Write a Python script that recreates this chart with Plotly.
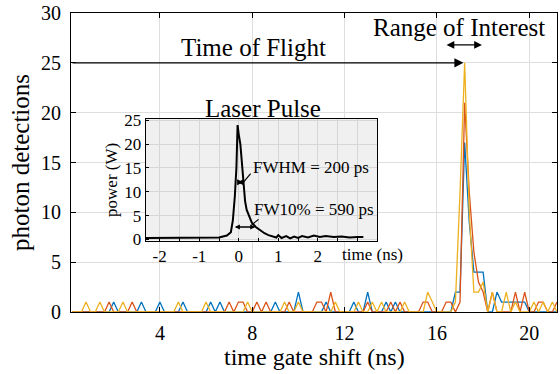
import plotly.graph_objects as go

# ---------------- data ----------------
# time gate shift (ns), 0.2 .. 21.2 step 0.2
gate_shift = [round(0.2 * (i + 1), 1) for i in range(106)]

counts_blue = [
    0, 0, 0, 0, 0, 0, 0, 0, 0, 1,
    0, 0, 0, 0, 0, 1, 0, 0, 0, 1,
    0, 0, 0, 0, 1, 0, 0, 0, 0, 0,
    1, 0, 1, 0, 0, 0, 0, 0, 0, 0,
    0, 0, 0, 0, 1, 0, 0, 0, 0, 2,
    0, 0, 0, 0, 0, 1, 0, 0, 0, 0,
    0, 1, 0, 0, 2, 0, 0, 0, 1, 0,
    1, 0, 0, 0, 0, 0, 0, 0, 0, 0,
    0, 0, 0, 2, 2, 17, 9, 4, 4, 4,
    0, 0, 2, 1, 1, 1, 1, 1, 1, 0,
    0, 0, 0, 0, 0, 0,
]
counts_red = [
    0, 0, 0, 0, 0, 0, 0, 0, 1, 0,
    0, 0, 0, 1, 0, 0, 0, 0, 0, 0,
    0, 0, 0, 0, 0, 0, 0, 0, 0, 0,
    0, 0, 0, 0, 1, 0, 1, 1, 0, 0,
    1, 0, 1, 0, 0, 0, 0, 1, 0, 0,
    0, 0, 0, 1, 1, 0, 2, 0, 0, 0,
    0, 0, 0, 0, 1, 0, 0, 0, 0, 1,
    0, 1, 0, 0, 0, 0, 1, 1, 0, 0,
    0, 1, 1, 0, 1, 21, 12, 6, 3, 2,
    0, 2, 0, 0, 0, 0, 2, 0, 2, 0,
    0, 1, 1, 0, 0, 1,
]
counts_yellow = [
    0, 0, 0, 1, 0, 0, 1, 0, 0, 0,
    0, 1, 0, 0, 0, 0, 0, 0, 0, 0,
    0, 0, 0, 1, 0, 0, 0, 0, 0, 1,
    0, 0, 0, 0, 0, 0, 0, 0, 1, 0,
    0, 0, 0, 0, 0, 0, 1, 0, 0, 1,
    0, 0, 0, 0, 0, 0, 0, 1, 0, 0,
    0, 0, 1, 0, 0, 1, 0, 1, 0, 0,
    0, 0, 1, 0, 0, 0, 0, 2, 1, 0,
    0, 0, 0, 1, 12, 25, 10, 2, 2, 3,
    0, 2, 0, 0, 2, 0, 1, 0, 0, 0,
    1, 0, 1, 0, 1, 0,
]

# laser pulse (inset)
pulse_t = [-2.35, -1.5, -0.8, -0.5, -0.3, -0.2, -0.15, -0.1, -0.06, -0.03,
           0.0, 0.04, 0.08, 0.12, 0.16, 0.2, 0.26, 0.33, 0.43, 0.55,
           0.65, 0.75, 0.85, 0.95, 1.0, 1.08, 1.2, 1.3, 1.4, 1.5,
           1.6, 1.75, 1.9, 2.05, 2.2, 2.4, 2.6, 2.8, 3.0, 3.15]
pulse_p = [0.3, 0.3, 0.25, 0.4, 0.8, 1.5, 4, 9, 15, 24,
           22, 20, 16, 11, 8, 6.2, 4.8, 3.5, 2.6, 1.8,
           1.3, 0.9, 0.6, 0.4, 0.9, 0.3, 0.7, 0.2, 0.6, 0.3,
           0.7, 0.4, 0.8, 0.5, 0.7, 0.5, 0.6, 0.4, 0.5, 0.5]

main_xticks = [4, 8, 12, 16, 20]
main_yticks = [0, 5, 10, 15, 20, 25, 30]
inset_xticks = [-2, -1.5, -1, -0.5, 0, 0.5, 1, 1.5, 2, 2.5, 3]
inset_xticktext = ["-2", "", "-1", "", "0", "", "1", "", "2", "", ""]
inset_yticks = [0, 5, 10, 15, 20, 25]

FONT = "Liberation Serif"
BLUE, RED, YELLOW = "#0072BD", "#D95319", "#EDB120"

fig = go.Figure()
for ys, col in [(counts_blue, BLUE), (counts_red, RED), (counts_yellow, YELLOW)]:
    fig.add_trace(go.Scatter(x=gate_shift, y=ys, mode="lines",
                             line=dict(color=col, width=1.3),
                             showlegend=False, xaxis="x", yaxis="y"))

fig.add_trace(go.Scatter(x=pulse_t, y=pulse_p, mode="lines",
                         line=dict(color="black", width=2),
                         showlegend=False, xaxis="x2", yaxis="y2"))

# inset background (drawn in the inset subplot so it hides the main grid)
fig.add_shape(type="rect", xref="x2", yref="y2", x0=-2.35, x1=3.5, y0=-0.3, y1=25.3,
              fillcolor="#f0f0f0", line=dict(width=0), layer="below")

ann = []
# Time of flight arrow
ann.append(dict(x=17.15, y=25, ax=0.15, ay=25, xref="x", yref="y", axref="x", ayref="y",
                text="", showarrow=True, arrowhead=2, arrowsize=1.4, arrowwidth=1.3,
                arrowcolor="black"))
# Range of interest double arrow
ann.append(dict(x=17.95, y=26.8, ax=16.35, ay=26.8, xref="x", yref="y", axref="x", ayref="y",
                text="", showarrow=True, arrowhead=2, startarrowhead=2, arrowside="end+start",
                arrowsize=1.2, startarrowsize=1.2, arrowwidth=1.3, arrowcolor="black"))
ann.append(dict(x=8.07, y=26.5, xref="x", yref="y", text="Time of Flight", showarrow=False,
                font=dict(family=FONT, size=25, color="black")))
ann.append(dict(x=16.97, y=28.5, xref="x", yref="y", text="Range of Interest", showarrow=False,
                font=dict(family=FONT, size=25, color="black")))
ann.append(dict(x=8.45, y=20.45, xref="x", yref="y", text="Laser Pulse", showarrow=False,
                font=dict(family=FONT, size=25, color="black")))
# x-axis title
ann.append(dict(x=0.5, y=-0.149, xref="paper", yref="paper", text="time gate shift (ns)",
                showarrow=False, xanchor="center", yanchor="middle",
                font=dict(family=FONT, size=24, color="black")))
# inset annotations
ann.append(dict(x=0.11, y=12, ax=-0.07, ay=12, xref="x2", yref="y2", axref="x2", ayref="y2",
                text="", showarrow=True, arrowhead=2, startarrowhead=2, arrowside="end+start",
                arrowsize=0.8, startarrowsize=0.8, arrowwidth=1.5, arrowcolor="black"))
ann.append(dict(x=0.42, y=2.6, ax=-0.14, ay=2.6, xref="x2", yref="y2", axref="x2", ayref="y2",
                text="", showarrow=True, arrowhead=2, startarrowhead=2, arrowside="end+start",
                arrowsize=0.8, startarrowsize=0.8, arrowwidth=1.3, arrowcolor="black"))
ann.append(dict(x=0.30, y=15.1, xref="x2", yref="y2", text="FWHM = 200 ps", showarrow=False,
                xanchor="left", font=dict(family=FONT, size=17, color="black")))
ann.append(dict(x=0.33, y=6.2, xref="x2", yref="y2", text="FW10% = 590 ps", showarrow=False,
                xanchor="left", font=dict(family=FONT, size=17, color="black")))
ann.append(dict(x=3.37, y=0.192, xref="x2", yref="paper", text="time (ns)", showarrow=False,
                yanchor="middle",
                font=dict(family=FONT, size=17, color="black")))
fig.update_layout(annotations=ann)

# leader lines
fig.add_shape(type="line", xref="x2", yref="y2", x0=0.12, y0=12, x1=0.30, y1=13.8,
              line=dict(color="black", width=1.2), layer="above")
fig.add_shape(type="line", xref="x2", yref="y2", x0=0.32, y0=3.0, x1=0.50, y1=4.2,
              line=dict(color="black", width=1.2), layer="above")

fig.update_layout(
    width=560, height=374,
    margin=dict(l=71, r=2, t=10, b=62),
    paper_bgcolor="white", plot_bgcolor="white",
    font=dict(family=FONT, color="black"),
    xaxis=dict(range=[0.15, 21.2], tickvals=main_xticks, showgrid=True, gridcolor="#dedede",
               gridwidth=1, zeroline=False, showline=True, linecolor="black", linewidth=1,
               mirror="ticks", ticks="inside", ticklen=5, tickcolor="black",
               ticklabelstandoff=3,
               tickfont=dict(family=FONT, size=20)),
    yaxis=dict(range=[0, 30], tickvals=main_yticks, showgrid=True, gridcolor="#dedede",
               gridwidth=1, zeroline=False, showline=True, linecolor="black", linewidth=1,
               mirror="ticks", ticks="inside", ticklen=5, tickcolor="black",
               ticklabelstandoff=5, ticklabeloverflow="allow",
               tickfont=dict(family=FONT, size=20),
               title=dict(text="photon detections", font=dict(family=FONT, size=25), standoff=4)),
    xaxis2=dict(domain=[0.154, 0.630], anchor="y2", range=[-2.35, 3.5],
                tickvals=inset_xticks, ticktext=inset_xticktext,
                showgrid=True, gridcolor="#d6d6d6", gridwidth=1, zeroline=False,
                showline=True, linecolor="black", linewidth=1.2, mirror=True,
                ticks="inside", ticklen=3, tickcolor="black",
                tickfont=dict(family=FONT, size=17)),
    yaxis2=dict(domain=[0.238, 0.646], anchor="x2", range=[-0.3, 25.3],
                tickvals=inset_yticks, showgrid=True, gridcolor="#d6d6d6", gridwidth=1,
                zeroline=False, showline=True, linecolor="black", linewidth=1.2, mirror=True,
                ticks="inside", ticklen=3, tickcolor="black",
                tickfont=dict(family=FONT, size=17),
                title=dict(text="power (W)", font=dict(family=FONT, size=17), standoff=2)),
)

fig.write_html("out.html", config={"displayModeBar": False},
               post_script="document.body.style.margin='0';")
